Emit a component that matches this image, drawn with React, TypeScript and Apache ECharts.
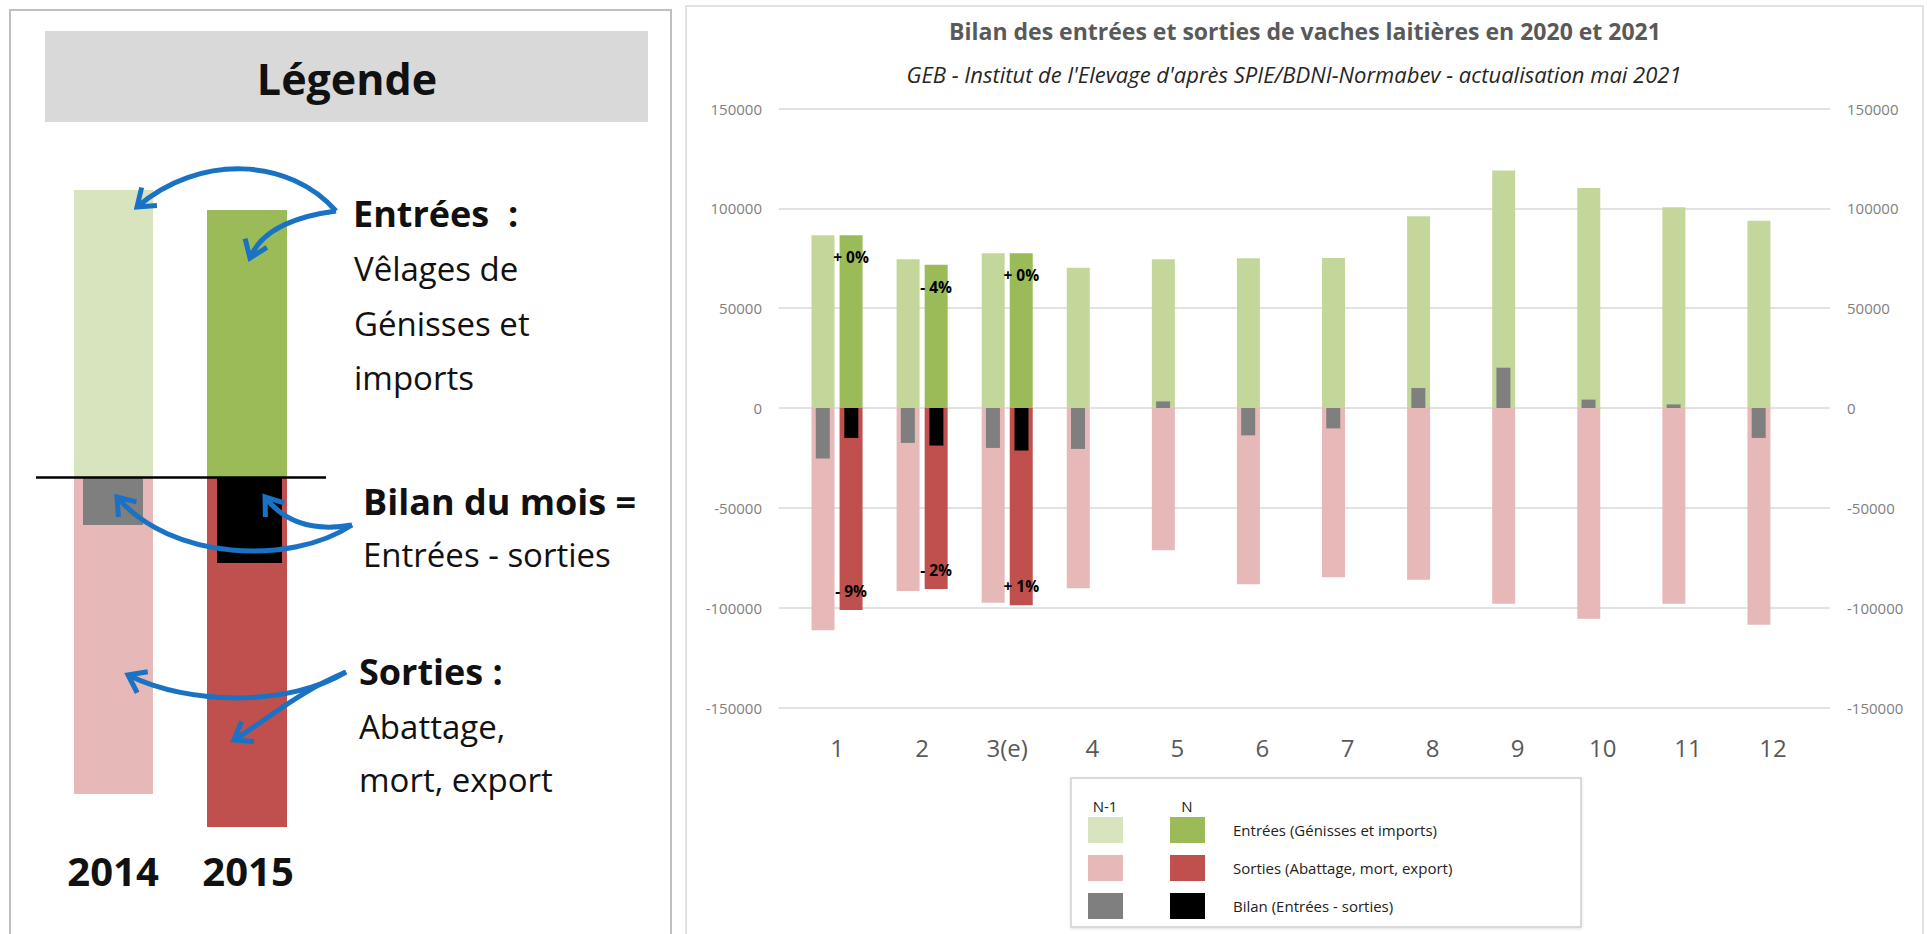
import React, { useEffect, useRef } from "react";
import * as echarts from "echarts";

// ---------- data ----------
const months = ["1", "2", "3(e)", "4", "5", "6", "7", "8", "9", "10", "11", "12"];
const entreesN1 = [86500, 74500, 77500, 70300, 74500, 75000, 75100, 96000, 119000, 110200, 100500, 93800];
const sortiesN1 = [-111300, -91700, -97500, -90300, -71200, -88300, -84800, -86000, -98000, -105500, -98000, -108500];
const bilanN1 = [-25300, -17500, -20000, -20500, 3300, -13700, -10200, 10000, 20200, 4200, 1800, -15000];
const entreesN = [86500, 71700, 77500, null, null, null, null, null, null, null, null, null];
const sortiesN = [-101200, -90700, -98800, null, null, null, null, null, null, null, null, null];
const bilanN = [-15000, -18800, -21300, null, null, null, null, null, null, null, null, null];
const varEntrees = ["+ 0%", "- 4%", "+ 0%"];
const varSorties = ["- 9%", "- 2%", "+ 1%"];
const yTicks = { min: -150000, max: 150000, interval: 50000 };

const titleText = "Bilan des entrées et sorties de vaches laitières en 2020 et 2021";
const subtitleText = "GEB - Institut de l'Elevage d'après SPIE/BDNI-Normabev - actualisation mai 2021";
const legendHeaders = ["N-1", "N"];
const legendLabels = ["Entrées (Génisses et imports)", "Sorties (Abattage, mort, export)", "Bilan (Entrées - sorties)"];
const legendN1Colors = ["#d7e4bd", "#e6b9b8", "#7f7f7f"];
const legendNColors = ["#9bbb59", "#c0504d", "#000000"];

const FONT = '"Open Sans", "Noto Sans", sans-serif';
const BLUE = "#1a72c4";

function arrow(s: number[], c1: number[], c2: number[], e: number[]) {
  const dx = e[0] - c2[0];
  const dy = e[1] - c2[1];
  const L = Math.hypot(dx, dy) || 1;
  const ux = dx / L;
  const uy = dy / L;
  const len = 20;
  const a = Math.PI / 5;
  const head = (ang: number) => [
    e[0] - (ux * Math.cos(ang) - uy * Math.sin(ang)) * len,
    e[1] - (ux * Math.sin(ang) + uy * Math.cos(ang)) * len,
  ];
  return [
    {
      type: "bezierCurve",
      shape: { x1: s[0], y1: s[1], cpx1: c1[0], cpy1: c1[1], cpx2: c2[0], cpy2: c2[1], x2: e[0], y2: e[1] },
      style: { stroke: BLUE, lineWidth: 5, fill: "none" },
      z: 20,
    },
    {
      type: "polyline",
      shape: { points: [head(a), e, head(-a)] },
      style: { stroke: BLUE, lineWidth: 5, fill: "none", lineJoin: "miter" },
      z: 20,
    },
  ];
}

function txt(x: number, y: number, text: string, font: string, align = "left", fill = "#111") {
  return {
    type: "text",
    x,
    y,
    z: 20,
    style: { text, font, fill, textAlign: align, textVerticalAlign: "middle" },
  };
}

export default function App() {
  const ref = useRef<HTMLDivElement>(null);

  useEffect(() => {
    if (!ref.current) return;
    const chart = echarts.init(ref.current, null, { renderer: "svg" });

    const gTop = 108.5;
    const gH = 599;

    const graphics: any[] = [];
    // right panel border
    graphics.push({ type: "rect", shape: { x: 686, y: 6, width: 1237, height: 940 }, style: { fill: "none", stroke: "#d9d9d9", lineWidth: 1.5 }, z: -10 });
    // left panel border
    graphics.push({ type: "rect", shape: { x: 10, y: 10, width: 661, height: 940 }, style: { fill: "none", stroke: "#bfbfbf", lineWidth: 2 }, z: -10 });
    // Légende header
    graphics.push({ type: "rect", shape: { x: 45, y: 31, width: 603, height: 91 }, style: { fill: "#d9d9d9" } });
    graphics.push(txt(347, 78, "Légende", `bold 43px ${FONT}`, "center", "#111"));
    // illustration bars
    graphics.push({ type: "rect", shape: { x: 74, y: 190, width: 79, height: 288 }, style: { fill: "#d7e4bd" } });
    graphics.push({ type: "rect", shape: { x: 74, y: 478, width: 79, height: 316 }, style: { fill: "#e6b9b8" } });
    graphics.push({ type: "rect", shape: { x: 83, y: 478, width: 60, height: 47 }, style: { fill: "#7f7f7f" } });
    graphics.push({ type: "rect", shape: { x: 207, y: 210, width: 80, height: 268 }, style: { fill: "#9bbb59" } });
    graphics.push({ type: "rect", shape: { x: 207, y: 478, width: 80, height: 349 }, style: { fill: "#c0504d" } });
    graphics.push({ type: "rect", shape: { x: 217, y: 478, width: 65, height: 85 }, style: { fill: "#000" } });
    graphics.push({ type: "line", shape: { x1: 36, y1: 477.5, x2: 326, y2: 477.5 }, style: { stroke: "#000", lineWidth: 2.5 } });
    graphics.push(txt(113, 870, "2014", `bold 40px ${FONT}`, "center"));
    graphics.push(txt(248, 870, "2015", `bold 40px ${FONT}`, "center"));
    // illustration texts
    graphics.push(txt(353, 213, "Entrées  :", `bold 36px ${FONT}`));
    graphics.push(txt(354, 268, "Vêlages de", `33px ${FONT}`));
    graphics.push(txt(354, 323, "Génisses et", `33px ${FONT}`));
    graphics.push(txt(354, 377, "imports", `33px ${FONT}`));
    graphics.push(txt(363, 501, "Bilan du mois =", `bold 36px ${FONT}`));
    graphics.push(txt(363, 554, "Entrées - sorties", `33px ${FONT}`));
    graphics.push(txt(359, 671, "Sorties :", `bold 36px ${FONT}`));
    graphics.push(txt(359, 726, "Abattage,", `33px ${FONT}`));
    graphics.push(txt(359, 779, "mort, export", `33px ${FONT}`));
    // arrows
    graphics.push(...arrow([336, 211], [290, 158], [200, 153], [137, 207]));
    graphics.push(...arrow([336, 211], [298, 216], [262, 228], [250, 258]));
    graphics.push(...arrow([352, 525], [290, 566], [170, 560], [117, 497]));
    graphics.push(...arrow([352, 525], [312, 532], [284, 522], [265, 497]));
    graphics.push(...arrow([346, 672], [290, 706], [190, 706], [128, 675]));
    graphics.push(...arrow([346, 672], [302, 690], [266, 720], [234, 740]));

    // titles
    graphics.push(txt(1305, 31, titleText, `bold 23px ${FONT}`, "center", "#595959"));
    graphics.push(txt(1294, 74, subtitleText, `italic 22px ${FONT}`, "center", "#262626"));

    // custom legend
    graphics.push({ type: "rect", shape: { x: 1071, y: 778, width: 510, height: 149 }, style: { fill: "#fff", stroke: "#d0d0d0", lineWidth: 1.5, shadowBlur: 3, shadowColor: "rgba(0,0,0,0.12)", shadowOffsetY: 1 } });
    graphics.push(txt(1105, 806, legendHeaders[0], `15px ${FONT}`, "center", "#222"));
    graphics.push(txt(1187, 806, legendHeaders[1], `15px ${FONT}`, "center", "#222"));
    legendLabels.forEach((lab, i) => {
      const y = 817 + i * 38;
      graphics.push({ type: "rect", shape: { x: 1088, y, width: 35, height: 26 }, style: { fill: legendN1Colors[i] } });
      graphics.push({ type: "rect", shape: { x: 1170, y, width: 35, height: 26 }, style: { fill: legendNColors[i] } });
      graphics.push(txt(1233, y + 13, lab, `15px ${FONT}`, "left", "#222"));
    });

    const yBase = { min: yTicks.min, max: yTicks.max, interval: yTicks.interval };
    const barLabelFont = { fontFamily: FONT, fontWeight: "bold", fontSize: 15.5, color: "#000" };

    const option: any = {
      animation: false,
      textStyle: { fontFamily: FONT },
      grid: [
        { left: 779, top: gTop, width: 1051, height: gH },
        { left: 794.5, top: gTop, width: 1021, height: gH },
      ],
      xAxis: [
        {
          type: "category",
          gridIndex: 1,
          data: months,
          axisLine: { show: false },
          axisTick: { show: false },
          axisLabel: { color: "#595959", fontSize: 24, margin: 28, fontFamily: FONT },
        },
        { type: "category", gridIndex: 1, data: months, show: false },
        { type: "value", gridIndex: 0, show: false, min: 0, max: 1 },
      ],
      yAxis: [
        {
          type: "value",
          gridIndex: 0,
          position: "left",
          ...yBase,
          axisLine: { show: false },
          axisTick: { show: false },
          axisLabel: { color: "#808080", fontSize: 15, margin: 17, formatter: (v: number) => String(v) },
          splitLine: { lineStyle: { color: "#d9d9d9", width: 1.5 } },
        },
        {
          type: "value",
          gridIndex: 0,
          position: "right",
          ...yBase,
          axisLine: { show: false },
          axisTick: { show: false },
          axisLabel: { color: "#808080", fontSize: 15, margin: 17, formatter: (v: number) => String(v) },
          splitLine: { show: false },
        },
        { type: "value", gridIndex: 1, ...yBase, show: false, splitLine: { show: false } },
      ],
      series: [
        {
          name: "Entrées N-1",
          type: "bar",
          xAxisIndex: 0,
          yAxisIndex: 2,
          stack: "n1",
          barWidth: 23,
          barGap: "22%",
          data: entreesN1,
          itemStyle: { color: "#c4d79b" },
        },
        {
          name: "Entrées N",
          type: "bar",
          xAxisIndex: 0,
          yAxisIndex: 2,
          stack: "n",
          barWidth: 23,
          barGap: "22%",
          data: entreesN,
          itemStyle: { color: "#9bbb59" },
          label: {
            show: true,
            position: "insideTop",
            distance: 14,
            ...barLabelFont,
            formatter: (p: any) => varEntrees[p.dataIndex] || "",
          },
        },
        {
          name: "Sorties N-1",
          type: "bar",
          xAxisIndex: 0,
          yAxisIndex: 2,
          stack: "n1",
          barWidth: 23,
          barGap: "22%",
          data: sortiesN1,
          itemStyle: { color: "#e6b9b8" },
        },
        {
          name: "Sorties N",
          type: "bar",
          xAxisIndex: 0,
          yAxisIndex: 2,
          stack: "n",
          barWidth: 23,
          barGap: "22%",
          data: sortiesN,
          itemStyle: { color: "#c0504d" },
          label: {
            show: true,
            position: "insideBottom",
            distance: 11,
            ...barLabelFont,
            formatter: (p: any) => varSorties[p.dataIndex] || "",
          },
        },
        {
          name: "Bilan N-1",
          type: "bar",
          xAxisIndex: 1,
          yAxisIndex: 2,
          stack: "b1",
          barWidth: 14,
          barGap: "104%",
          data: bilanN1,
          itemStyle: { color: "#7f7f7f" },
        },
        {
          name: "Bilan N",
          type: "bar",
          xAxisIndex: 1,
          yAxisIndex: 2,
          stack: "b2",
          barWidth: 14,
          barGap: "104%",
          data: bilanN,
          itemStyle: { color: "#000000" },
        },
      ],
      graphic: { elements: graphics },
    };

    chart.setOption(option);
    return () => chart.dispose();
  }, []);

  return (
    <div
      ref={ref}
      style={{ position: "fixed", left: 0, top: 0, width: 1927, height: 934, background: "#fff" }}
    />
  );
}
